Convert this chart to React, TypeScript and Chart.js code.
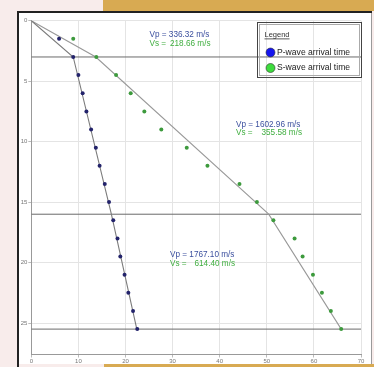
import { useEffect, useRef } from 'react';
import { Chart, registerables } from 'chart.js';
Chart.register(...registerables);

// Depth (m) of each geophone and first-arrival times (ms)
const depths = [1.5, 3, 4.5, 6, 7.5, 9, 10.5, 12, 13.5, 15, 16.5, 18, 19.5, 21, 22.5, 24, 25.5];
const pTimes = [5.9, 8.9, 10.0, 10.9, 11.7, 12.7, 13.7, 14.5, 15.6, 16.5, 17.4, 18.3, 18.9, 19.8, 20.6, 21.6, 22.5];
const sTimes = [8.9, 13.8, 18.0, 21.1, 24.0, 27.6, 33.0, 37.4, 44.2, 47.9, 51.4, 55.9, 57.6, 59.8, 61.7, 63.6, 65.8];

// Fitted velocity-model lines (vertices)
const fitDepths = [0, 3, 16, 25.5];
const pFitTimes = [0, 8.9, 17.0, 22.4];
const sFitTimes = [0, 13.7, 50.4, 65.8];

// Layer boundaries
const boundaryDepths = [3, 16, 25.5];

// Layer velocity labels
const vpValues = ['336.32', '1602.96', '1767.10'];
const vsValues = ['218.66', '355.58', '614.40'];

const legendLabels = ['P-wave arrival time', 'S-wave arrival time'];

const X_MAX = 70;
const Y_MAX = 27.6;

const FONT = '"Liberation Sans", Arial, sans-serif';

const framePlugin = {
  id: 'frame',
  beforeDraw(chart: any) {
    const c = chart.ctx;
    const W = chart.width, H = chart.height;
    c.save();
    c.fillStyle = '#f8eceb';
    c.fillRect(0, 0, W, H);
    c.fillStyle = '#d8aa52';
    c.fillRect(103, 0, W - 103, 11);
    c.fillRect(104, 364, W - 104, H - 364);
    c.fillStyle = '#ffffff';
    c.fillRect(17, 11, 355, 353);
    c.fillStyle = '#222222';
    c.fillRect(17, 11, 2, H - 11);
    c.fillRect(17, 11, 355, 2);
    c.fillStyle = '#9a9a9a';
    c.fillRect(371, 13, 1, 351);
    c.restore();
  },
  afterDraw(chart: any) {
    const c = chart.ctx;
    c.save();
    // velocity labels
    const boxes = [
      { l: 149.5, r: 210.5, y: 35 },
      { l: 236, r: 302, y: 124.5 },
      { l: 170, r: 235, y: 255 },
    ];
    c.font = `8.2px ${FONT}`;
    c.textBaseline = 'middle';
    boxes.forEach((b, i) => {
      c.fillStyle = '#3b4f9e';
      c.textAlign = 'left';
      c.fillText('Vp = ' + vpValues[i] + ' m/s', b.l, b.y);
      c.fillStyle = '#3fae3f';
      c.fillText('Vs =', b.l, b.y + 8.7);
      c.textAlign = 'right';
      c.fillText(vsValues[i] + ' m/s', b.r, b.y + 8.7);
    });

    // legend box
    c.strokeStyle = '#444';
    c.lineWidth = 1;
    c.strokeRect(257.5, 22.5, 104, 55);
    c.strokeStyle = '#aaa';
    c.strokeRect(259.5, 24.5, 100, 51);
    c.fillStyle = '#333';
    c.font = `7.5px ${FONT}`;
    c.textAlign = 'left';
    c.textBaseline = 'alphabetic';
    c.fillText('Legend', 264.5, 37);
    const lw = c.measureText('Legend').width;
    c.fillRect(264.5, 38.5, lw, 0.8);
    const cols = ['#1414ee', '#3ddc3d'];
    const ys = [52.5, 68];
    c.font = `8.6px ${FONT}`;
    c.textBaseline = 'middle';
    legendLabels.forEach((t, i) => {
      c.beginPath();
      c.arc(270.5, ys[i], 4.5, 0, Math.PI * 2);
      c.fillStyle = cols[i];
      c.fill();
      c.strokeStyle = '#333';
      c.lineWidth = 0.6;
      c.stroke();
      c.fillStyle = '#222';
      c.fillText(t, 277, ys[i]);
    });
    c.restore();
  },
};

export default function App() {
  const ref = useRef<HTMLCanvasElement>(null);
  useEffect(() => {
    const canvas = ref.current!;
    const pts = (ts: number[], ds: number[]) => ts.map((t, i) => ({ x: t, y: ds[i] }));
    const boundarySets = boundaryDepths.map((d) => ({
      label: 'boundary ' + d,
      data: [{ x: 0, y: d }, { x: X_MAX, y: d }],
      showLine: true,
      pointRadius: 0,
      borderColor: '#6a6a6a',
      borderWidth: 1,
    }));
    const chart = new Chart(canvas, {
      type: 'scatter',
      data: {
        datasets: [
          {
            label: legendLabels[0],
            data: pts(pTimes, depths),
            pointRadius: 2,
            pointBackgroundColor: '#23236b',
            pointBorderWidth: 0,
            showLine: false,
          },
          {
            label: legendLabels[1],
            data: pts(sTimes, depths),
            pointRadius: 2,
            pointBackgroundColor: '#3d9a3d',
            pointBorderWidth: 0,
            showLine: false,
          },
          {
            label: 'P fit',
            data: pts(pFitTimes, fitDepths),
            showLine: true,
            pointRadius: 0,
            borderColor: '#7c7c7c',
            borderWidth: 1.1,
          },
          {
            label: 'S fit',
            data: pts(sFitTimes, fitDepths),
            showLine: true,
            pointRadius: 0,
            borderColor: '#999999',
            borderWidth: 1.1,
          },
          ...boundarySets,
        ] as any,
      },
      options: {
        animation: false,
        responsive: false,
        events: [],
        layout: { padding: { left: 0, top: 20.7, right: 13, bottom: 0 } },
        plugins: { legend: { display: false }, tooltip: { enabled: false } },
        scales: {
          x: {
            type: 'linear',
            min: 0,
            max: X_MAX,
            ticks: { stepSize: 10, font: { size: 6, family: FONT }, color: '#777', padding: 0, maxRotation: 0, includeBounds: false },
            grid: { color: '#e4e4e4', tickLength: 3, tickColor: '#bbb' },
            border: { color: '#999' },
            afterFit: (s: any) => { s.height = 12.5; },
          },
          y: {
            type: 'linear',
            reverse: true,
            min: 0,
            max: Y_MAX,
            ticks: { stepSize: 5, font: { size: 6, family: FONT }, color: '#777', padding: 1, includeBounds: false },
            grid: { color: '#e4e4e4', tickLength: 3, tickColor: '#bbb' },
            border: { color: '#999' },
            afterFit: (s: any) => { s.width = 31.3; },
          },
        },
      } as any,
      plugins: [framePlugin],
    });
    return () => chart.destroy();
  }, []);
  return (
    <div style={{ position: 'absolute', left: 0, top: 0, width: 374, height: 367 }}>
      <canvas ref={ref} width={374} height={367} style={{ display: 'block' }} />
    </div>
  );
}
